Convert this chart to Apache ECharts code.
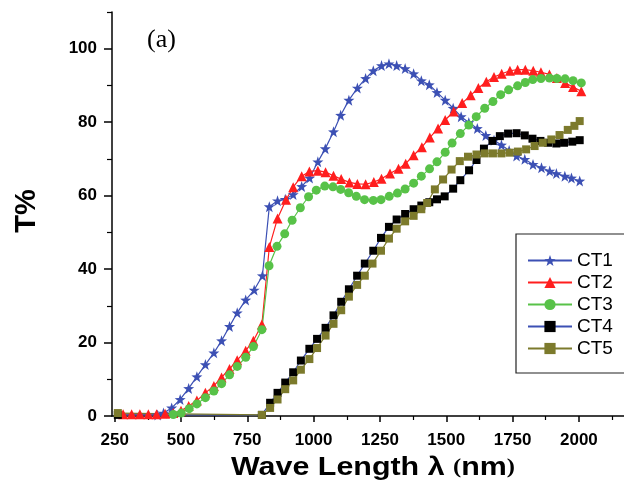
<!DOCTYPE html>
<html>
<head>
<meta charset="utf-8">
<script src="https://cdn.jsdelivr.net/npm/echarts@6/dist/echarts.min.js"></script>
<style>
html,body{margin:0;padding:0;background:#fff;}
#chart{width:624px;height:492px;}
</style>
</head>
<body>
<div id="chart"></div>
<script>
// ---- data (wavelength in nm, transmittance in %) ----
var ct1Wave = [412,434,465,497,529,560,592,624,653,683,712,744,776,807,833,864,893,923,955,985,1016,1044,1075,1102,1133,1165,1196,1225,1256,1284,1313,1345,1377,1406,1436,1465,1496,1526,1556,1585,1617,1649,1680,1708,1737,1765,1796,1827,1859,1890,1915,1947,1972,2003];
var ct1T = [0.3,0.8,2.2,4.5,7.5,10.7,14,17.2,20.5,24.4,28.1,31.6,34.3,38.2,57,58.6,59,60.3,62.5,64.8,69.2,72.8,77.4,81.9,86,89.3,91.9,94,95.4,95.9,95.4,94.6,93.2,91.3,90.2,88.1,86,83.8,81.5,79.9,78.3,76.4,75.1,73.8,72.3,70.8,69.9,68.5,67.6,66.7,66,65.3,64.8,64];

var ct2Wave = [282,314,345,377,408,440,471,500,529,560,592,624,653,683,712,744,773,805,833,864,896,923,955,984,1016,1045,1075,1104,1135,1165,1196,1227,1256,1288,1320,1347,1377,1408,1438,1469,1496,1528,1560,1592,1621,1651,1680,1709,1740,1769,1798,1828,1857,1889,1917,1948,1978,2009];
var ct2T = [0.5,0.5,0.5,0.5,0.5,0.6,0.8,1.4,2.7,4.2,6.3,8.2,10.5,12.8,15.2,17.8,20.5,24.9,46,53.8,58.9,62.3,65.3,66.6,66.8,66.4,65.4,64.5,63.6,63.2,63.1,63.7,64.6,66,67.3,68.7,71,73.2,75.8,78.3,80.6,82.9,85.2,87.3,89.3,91,92.3,93.2,94,94.3,94.3,94,93.6,93,92,90.7,89.6,88.4];

var ct3Wave = [471,501,531,560,592,624,653,683,712,744,773,805,832,862,891,919,950,981,1010,1042,1073,1102,1132,1161,1192,1225,1254,1285,1316,1345,1377,1406,1437,1465,1496,1522,1553,1585,1613,1645,1676,1705,1735,1769,1798,1826,1857,1889,1917,1948,1978,2009];
var ct3T = [0.4,0.8,2,3.3,5,6.8,8.8,11.2,13.5,16,18.9,23.5,40.9,46.2,49.6,53.3,56.7,59.7,61.5,62.6,62.4,61.7,60.8,59.8,58.9,58.7,58.9,59.8,60.7,61.8,63.4,65.3,67.3,69.2,71.8,74.3,76.9,79.2,81.5,83.8,85.6,87.5,88.8,89.9,90.8,91.6,91.9,92,91.9,91.8,91.3,90.7];

var ct4Wave = [262,805,836,864,893,923,952,984,1013,1045,1075,1104,1133,1164,1193,1225,1254,1284,1313,1345,1377,1406,1436,1465,1494,1526,1553,1586,1614,1642,1674,1702,1733,1765,1796,1825,1855,1884,1915,1944,1975,2003];
var ct4T = [0.3,0.3,3.6,6.3,9.1,11.9,15.1,18.3,21,24,27.4,31.1,34.5,38.2,41.5,45,48.5,51.5,53.5,55,56.3,57.3,58.2,59,59.8,61.9,64.2,66.9,69.7,72.8,74.9,76.2,76.9,77,76.4,75.5,74.9,74.4,74.2,74.4,74.7,75.1];

var ct5Wave = [262,805,836,864,893,923,952,984,1013,1045,1075,1104,1133,1164,1193,1222,1254,1284,1313,1345,1377,1406,1428,1457,1488,1520,1551,1582,1614,1645,1676,1708,1739,1770,1801,1833,1864,1896,1927,1958,1983,2003];
var ct5T = [0.8,0.3,2.2,4.5,7.3,9.7,12.6,15.5,18.5,21.9,25.1,28.8,32.5,35.7,38.2,41.5,45,48.3,51,53,54.5,56.3,58,61.7,64.4,67.1,69.4,70.6,71.2,71.5,71.5,71.5,71.7,72,72.6,73.5,74.4,75.3,76.5,77.9,79,80.3];

var seriesNames = ['CT1','CT2','CT3','CT4','CT5'];
var xMajorTicks = [250,500,750,1000,1250,1500,1750,2000];
var xMinorTicks = [375,625,875,1125,1375,1625,1875,2125];
var yMajorTicks = [0,20,40,60,80,100];
var yMinorTicks = [10,30,50,70,90,110];

function pairs(xs, ys){ return xs.map(function(x,i){ return [x, ys[i]]; }); }

var starPath = 'path://M0,-10L2.35,-3.24L9.51,-3.09L3.8,1.24L5.88,8.09L0,4L-5.88,8.09L-3.8,1.24L-9.51,-3.09L-2.35,-3.24Z';
var BLUE = '#3c50b4', RED = '#ff1e1e', GREEN = '#58c248', OLIVE = '#7c7a2c';

var chart = echarts.init(document.getElementById('chart'), null, {renderer:'canvas'});

var axisFont = {fontFamily:'Liberation Sans, Arial, sans-serif', fontWeight:'bold', fontSize:17, color:'#000',
  formatter:function(v){ return String(v); }};

function lineSeries(name, data, symbol, size, itemColor, lineColor){
  return {
    name: name, type:'line', data: data, symbol: symbol, symbolSize: size,
    showAllSymbol: true,
    itemStyle:{color:itemColor, opacity:1},
    lineStyle:{color:lineColor, width:1.2},
    emphasis:{disabled:true},
    xAxisIndex:0, yAxisIndex:0
  };
}

var option = {
  animation:false,
  backgroundColor:'#fff',
  grid:{left:112, right:0, top:12, bottom:76, containLabel:false},
  xAxis:[{
    type:'value', min:240, max:2170,
    axisLine:{show:true, lineStyle:{color:'#000', width:1.5}},
    axisTick:{show:true, customValues:xMajorTicks, length:6, lineStyle:{color:'#000', width:1.5}},
    axisLabel:Object.assign({show:true, customValues:xMajorTicks, margin:16}, axisFont),
    splitLine:{show:false}
  },{
    type:'value', min:240, max:2170, position:'bottom', offset:0,
    axisLine:{show:false},
    axisTick:{show:true, customValues:xMinorTicks, length:4, lineStyle:{color:'#000', width:1.2}},
    axisLabel:{show:false},
    splitLine:{show:false}
  }],
  yAxis:[{
    type:'value', min:0, max:110,
    axisLine:{show:true, lineStyle:{color:'#000', width:1.5}},
    axisTick:{show:true, customValues:yMajorTicks, length:8, lineStyle:{color:'#000', width:1.5}},
    axisLabel:Object.assign({show:true, customValues:yMajorTicks, margin:15}, axisFont),
    splitLine:{show:false}
  },{
    type:'value', min:0, max:110, position:'left', offset:0,
    axisLine:{show:false},
    axisTick:{show:true, customValues:yMinorTicks, length:5, lineStyle:{color:'#000', width:1.2}},
    axisLabel:{show:false},
    splitLine:{show:false}
  }],
  legend:{
    orient:'vertical', left:522, top:246, itemWidth:44, itemHeight:14, itemGap:3,
    data:seriesNames,
    textStyle:{fontFamily:'Liberation Sans, Arial, sans-serif', fontSize:19, color:'#000'},
    selectedMode:false
  },
  series:[
    lineSeries('CT1', pairs(ct1Wave, ct1T), starPath, 11, BLUE, BLUE),
    lineSeries('CT2', pairs(ct2Wave, ct2T), 'triangle', 10, RED, RED),
    lineSeries('CT3', pairs(ct3Wave, ct3T), 'circle', 9, GREEN, GREEN),
    lineSeries('CT4', pairs(ct4Wave, ct4T), 'rect', 8, '#000', BLUE),
    lineSeries('CT5', pairs(ct5Wave, ct5T), 'rect', 8, OLIVE, OLIVE)
  ],
  graphic:[
    {type:'rect', shape:{x:516, y:234, width:120, height:139}, style:{fill:'none', stroke:'#222', lineWidth:1.2}, z:100},
    {type:'text', x:147, y:27, style:{text:'(a)', font:'26px "Liberation Serif", "Times New Roman", serif', fill:'#000'}, z:100},
    {type:'text', x:27, y:211, rotation:Math.PI/2,
      style:{text:'T%', font:'bold 29px "Liberation Sans", Arial, sans-serif', fill:'#000', align:'center', verticalAlign:'middle'}, z:100},
    {type:'text', x:373, y:468, scaleX:1.17,
      style:{
        text:'{a|Wave Length λ }{p|(}{a|nm}{p|)}',
        align:'center', verticalAlign:'middle',
        rich:{
          a:{font:'bold 26px "Liberation Sans", Arial, sans-serif', fill:'#000'},
          p:{font:'bold 21px "Liberation Serif", "Times New Roman", serif', fill:'#000'}
        }
      }, z:100}
  ]
};
chart.setOption(option);
</script>
</body>
</html>
